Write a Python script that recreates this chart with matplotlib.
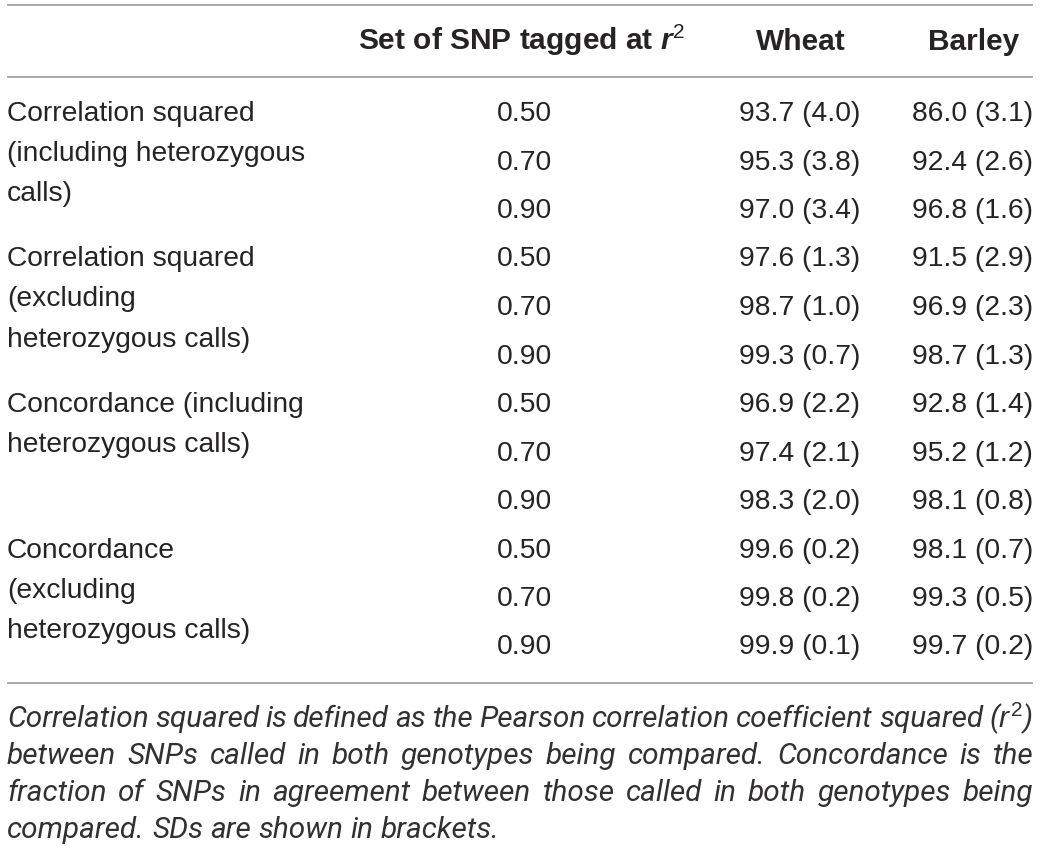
import matplotlib.pyplot as plt
from matplotlib import font_manager

plt.rcParams['font.family'] = ['Liberation Sans', 'DejaVu Sans']
plt.rcParams['mathtext.fontset'] = 'custom'
plt.rcParams['mathtext.rm'] = 'Liberation Sans'
plt.rcParams['mathtext.it'] = 'Liberation Sans:italic'
plt.rcParams['mathtext.bf'] = 'Liberation Sans:bold'
plt.rcParams['mathtext.bfit'] = 'Liberation Sans:bold:italic'

# table content
headers = ["Set of SNP tagged at $\\mathbfit{r}^{2}$", "Wheat", "Barley"]
groups = [
    ["Correlation squared", "(including heterozygous", "calls)"],
    ["Correlation squared", "(excluding", "heterozygous calls)"],
    ["Concordance (including", "heterozygous calls)"],
    ["Concordance", "(excluding", "heterozygous calls)"],
]
thresholds = ["0.50", "0.70", "0.90"]
wheat_mean = [93.7, 95.3, 97.0, 97.6, 98.7, 99.3, 96.9, 97.4, 98.3, 99.6, 99.8, 99.9]
wheat_sd = [4.0, 3.8, 3.4, 1.3, 1.0, 0.7, 2.2, 2.1, 2.0, 0.2, 0.2, 0.1]
barley_mean = [86.0, 92.4, 96.8, 91.5, 96.9, 98.7, 92.8, 95.2, 98.1, 98.1, 99.3, 99.7]
barley_sd = [3.1, 2.6, 1.6, 2.9, 2.3, 1.3, 1.4, 1.2, 0.8, 0.7, 0.5, 0.2]
caption_lines = [
    "Correlation squared is defined as the Pearson correlation coefficient squared ($r^{2}$)",
    "between SNPs called in both genotypes being compared. Concordance is the",
    "fraction of SNPs in agreement between those called in both genotypes being",
    "compared. SDs are shown in brackets.",
]

W, H = 1040, 849
fig = plt.figure(figsize=(W / 100, H / 100), dpi=100)
ax = fig.add_axes([0, 0, 1, 1])
ax.set_xlim(0, W)
ax.set_ylim(H, 0)
ax.axis('off')

ink = '#262324'
rule = '#a3a3a3'
fs = 20.3
hfs = 21.5

# horizontal rules
for y in [5, 77, 683]:
    ax.plot([7, 1033], [y, y], color=rule, lw=1.3, solid_capstyle='butt')

# header
hdr_y = 50
ax.text(521, hdr_y, headers[0], ha='center', va='baseline', fontsize=hfs, fontweight='bold', color=ink)
ax.text(801, hdr_y, headers[1], ha='center', va='baseline', fontsize=hfs, fontweight='bold', color=ink)
ax.text(974, hdr_y, headers[2], ha='center', va='baseline', fontsize=hfs, fontweight='bold', color=ink)

# body rows
row0, row_step, label_step = 121, 48.5, 40
i = 0
for g, lines in enumerate(groups):
    y_start = row0 + row_step * i
    for k, line in enumerate(lines):
        ax.text(7, y_start + label_step * k, line, ha='left', va='baseline', fontsize=fs, color=ink)
    for thr in thresholds:
        y = row0 + row_step * i
        ax.text(497, y, thr, ha='left', va='baseline', fontsize=fs, color=ink)
        ax.text(860, y, f"{wheat_mean[i]:.1f} ({wheat_sd[i]:.1f})", ha='right', va='baseline',
                fontsize=fs, color=ink)
        ax.text(1033, y, f"{barley_mean[i]:.1f} ({barley_sd[i]:.1f})", ha='right', va='baseline',
                fontsize=fs, color=ink)
        i += 1

# caption, justified; a narrower face is closer to the condensed original
names = {f.name for f in font_manager.fontManager.ttflist}
cap_family = 'Roboto' if 'Roboto' in names else 'Liberation Sans'
renderer = fig.canvas.get_renderer()


def text_width(s, size):
    t = ax.text(0, 0, s, fontsize=size, style='italic', family=cap_family)
    w = t.get_window_extent(renderer).width
    t.remove()
    return w


# size the caption so its last line is about as wide as in the original
cap_fs = 20 * 492 / text_width(caption_lines[-1], 20)
space_w = text_width("a a", cap_fs) - text_width("aa", cap_fs)
cap_y0, cap_step = 727, 37
x0, x1 = 7, 1033
for n, line in enumerate(caption_lines):
    y = cap_y0 + cap_step * n
    words = line.split(' ')
    widths = [text_width(w, cap_fs) for w in words]
    if n < len(caption_lines) - 1:
        gap = (x1 - x0 - sum(widths)) / (len(words) - 1)
    else:
        gap = space_w
    x = x0
    for w, wd in zip(words, widths):
        ax.text(x, y, w, ha='left', va='baseline', fontsize=cap_fs, style='italic',
                family=cap_family, color='#333031')
        x += wd + gap

fig.savefig('out.png', dpi=100, facecolor='white')
